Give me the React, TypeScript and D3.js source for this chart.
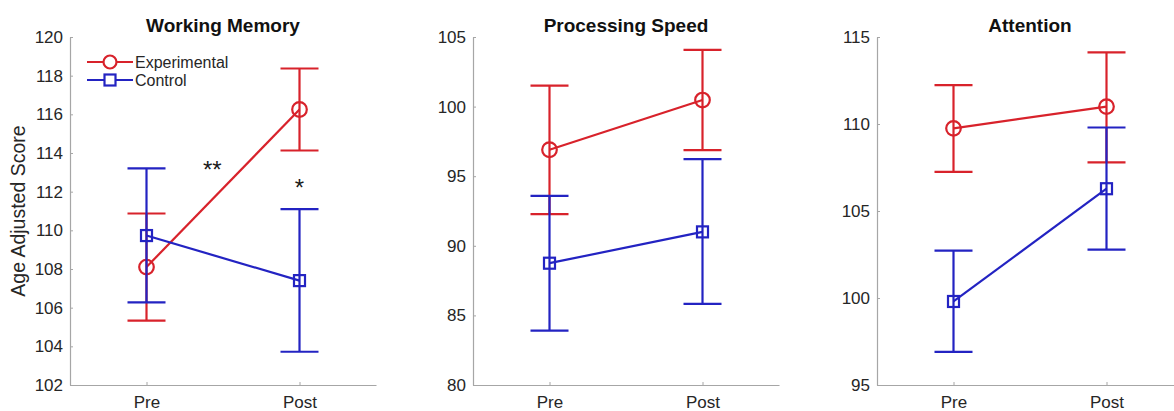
import React, { useEffect, useRef } from 'react';
import * as d3 from 'd3';

// groups and time points
const phases = ["Pre", "Post"];
const groups = ["Experimental", "Control"];

// panel titles and y ranges
const titles = ["Working Memory", "Processing Speed", "Attention"];
const yDomains = [[102, 120], [80, 105], [95, 115]];
const yTicks = [
  [102, 104, 106, 108, 110, 112, 114, 116, 118, 120],
  [80, 85, 90, 95, 100, 105],
  [95, 100, 105, 110, 115]
];

// means per panel: [Pre, Post]
const expMean = [[108.1, 116.25], [96.9, 100.47], [109.75, 111.0]];
const ctlMean = [[109.73, 107.4], [88.75, 91.0], [99.8, 106.28]];
// error bar bounds per panel: [Pre, Post]
const expLow = [[105.33, 114.13], [92.27, 96.87], [107.25, 107.8]];
const expHigh = [[110.87, 118.37], [101.5, 104.08], [112.23, 114.12]];
const ctlLow = [[106.27, 103.72], [83.9, 85.83], [96.9, 102.78]];
const ctlHigh = [[113.2, 111.1], [93.58, 96.22], [102.72, 109.8]];

// significance marks on first panel
const stars = [{ label: "**", x: 1.43, y: 112.7 }, { label: "*", x: 2, y: 111.8 }];

const RED = "#d8222b";
const BLUE = "#2323c2";
const FONT = "Arial, 'Liberation Sans', Helvetica, sans-serif";

export default function App() {
  const ref = useRef<SVGSVGElement>(null);

  useEffect(() => {
    const svg = d3.select(ref.current);
    svg.selectAll("*").remove();

    const width = 1174, height = 411;
    svg.attr("width", width).attr("height", height)
      .style("position", "absolute").style("left", 0).style("top", 0)
      .style("background", "#fff");

    const lefts = [70, 473, 877];
    const pw = 306;
    const top = 37, bottom = 385;

    titles.forEach((title, p) => {
      const g = svg.append("g");
      const x = d3.scaleLinear().domain([0.5, 2.5]).range([lefts[p], lefts[p] + pw]);
      const y = d3.scaleLinear().domain(yDomains[p]).range([bottom, top]);

      // axes
      const yAxis = g.append("g")
        .attr("transform", `translate(${lefts[p]},0)`)
        .call(d3.axisLeft(y).tickValues(yTicks[p]).tickSize(-3).tickPadding(7).tickSizeOuter(0));
      const xAxis = g.append("g")
        .attr("transform", `translate(0,${bottom})`)
        .call(d3.axisBottom(x).tickValues([1, 2]).tickFormat((d, i) => phases[i]).tickSize(-3).tickPadding(11).tickSizeOuter(0));
      [yAxis, xAxis].forEach(a => {
        a.select(".domain").attr("stroke", "#a6a6a6").attr("stroke-width", 1.2);
        a.selectAll(".tick line").attr("stroke", "#a6a6a6");
        a.selectAll(".tick text").attr("fill", "#262626")
          .style("font-family", FONT).style("font-size", "17px");
      });

      g.append("text")
        .attr("x", lefts[p] + pw / 2)
        .attr("y", 32)
        .attr("text-anchor", "middle")
        .style("font-family", FONT).style("font-weight", "bold").style("font-size", "19px")
        .attr("fill", "#111")
        .text(title);

      const series = [
        { name: groups[0], color: RED, mean: expMean[p], lo: expLow[p], hi: expHigh[p], marker: "circle" },
        { name: groups[1], color: BLUE, mean: ctlMean[p], lo: ctlLow[p], hi: ctlHigh[p], marker: "square" }
      ];

      series.forEach(s => {
        const cg = g.append("g").attr("stroke", s.color).attr("stroke-width", 2.2).attr("fill", "none");
        s.mean.forEach((m, i) => {
          const cx = x(i + 1);
          cg.append("line").attr("x1", cx).attr("x2", cx).attr("y1", y(s.lo[i])).attr("y2", y(s.hi[i]));
          [s.lo[i], s.hi[i]].forEach(v => {
            cg.append("line").attr("x1", cx - 19).attr("x2", cx + 19).attr("y1", y(v)).attr("y2", y(v));
          });
        });
        const line = d3.line<number>().x((d, i) => x(i + 1)).y(d => y(d));
        cg.append("path").attr("d", line(s.mean));
        s.mean.forEach((m, i) => {
          if (s.marker === "circle") {
            cg.append("circle").attr("cx", x(i + 1)).attr("cy", y(m)).attr("r", 7.3).attr("fill", "none");
          } else {
            cg.append("rect").attr("x", x(i + 1) - 5.5).attr("y", y(m) - 5.5)
              .attr("width", 11).attr("height", 11).attr("fill", "none");
          }
        });
      });

      if (p === 0) {
        stars.forEach(st => {
          g.append("text")
            .attr("x", x(st.x)).attr("y", y(st.y))
            .attr("text-anchor", "middle")
            .style("font-family", FONT).style("font-size", "24px")
            .attr("fill", "#1a1a1a")
            .text(st.label);
        });

        // y label
        g.append("text")
          .attr("transform", `translate(25,${(top + bottom) / 2}) rotate(-90)`)
          .attr("text-anchor", "middle")
          .style("font-family", FONT).style("font-size", "19.5px")
          .attr("fill", "#262626")
          .text("Age Adjusted Score");

        // legend
        const lg = g.append("g");
        series.forEach((s, i) => {
          const ly = 62 + i * 18;
          const row = lg.append("g").attr("stroke", s.color).attr("stroke-width", 2.2).attr("fill", "none");
          row.append("line").attr("x1", 87).attr("x2", 133).attr("y1", ly).attr("y2", ly);
          if (s.marker === "circle") {
            row.append("circle").attr("cx", 110).attr("cy", ly).attr("r", 6.5).attr("fill", "#fff");
          } else {
            row.append("rect").attr("x", 104.5).attr("y", ly - 5.5).attr("width", 11).attr("height", 11).attr("fill", "#fff");
          }
          lg.append("text")
            .attr("x", 135).attr("y", ly + 5.5)
            .style("font-family", FONT).style("font-size", "16px")
            .attr("fill", "#262626")
            .text(s.name);
        });
      }
    });
  }, []);

  return <svg ref={ref} />;
}
